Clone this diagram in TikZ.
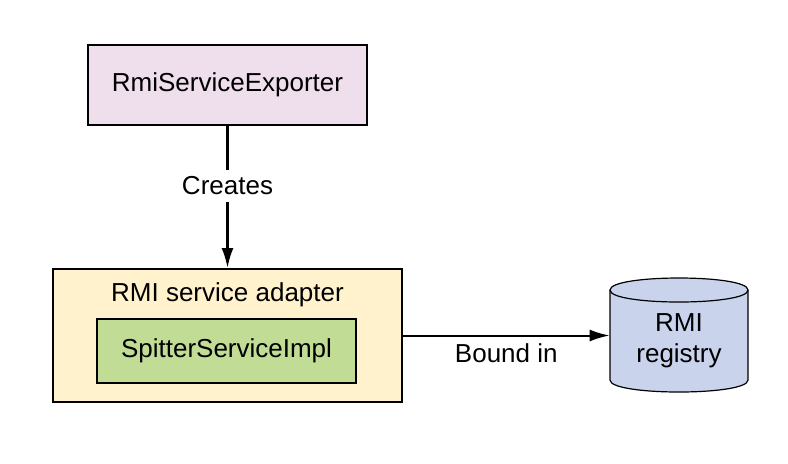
\documentclass[tikz,border=0pt]{standalone}
\usepackage{fontspec}
\setmainfont{Liberation Sans}
\usetikzlibrary{arrows.meta}

\definecolor{exportpink}{RGB}{239,222,236}
\definecolor{adaptyellow}{RGB}{255,242,204}
\definecolor{implgreen}{RGB}{193,220,149}
\definecolor{registryblue}{RGB}{201,212,236}

\tikzset{
  box/.style={draw, line width=1pt, minimum width=#1},
  flow/.style={line width=1.2pt, -{Latex[length=10pt,width=6pt]}}
}

\begin{document}
\begin{tikzpicture}[x=0.5pt,y=-0.5pt,font=\fontsize{13}{15.6}\selectfont]
\useasboundingbox (0,0) rectangle (788,463);

\node[box=139.5pt, fill=exportpink, minimum height=40pt] (exporter) at (227.5,85) {RmiServiceExporter};

\node[box=174.5pt, fill=adaptyellow, minimum height=66.5pt] (adapter) at (227.5,335.5) {};
\node (adaptlbl) at (227.5,295) {RMI service adapter};
\node[box=129.5pt, fill=implgreen, minimum height=32pt] (impl) at (226.5,351) {SpitterServiceImpl};

% registry drum
\draw[line width=0.6pt, fill=registryblue] (610,290) -- (610,380)
  .. controls (610,396) and (748,396) .. (748,380) -- (748,290)
  .. controls (748,274) and (610,274) .. (610,290) -- cycle;
\draw[line width=0.6pt] (610,290) .. controls (610,306) and (748,306) .. (748,290);
\node[align=center, minimum width=69pt] (registry) at (679,341) {RMI\\registry};

\draw[flow] (exporter) -- node[pos=0.42, fill=white] {Creates} (adapter);
\draw[flow, line width=1pt] (adapter.east) -- node[below=0pt] {Bound in} (adapter.east -| registry.west);

\end{tikzpicture}
\end{document}
